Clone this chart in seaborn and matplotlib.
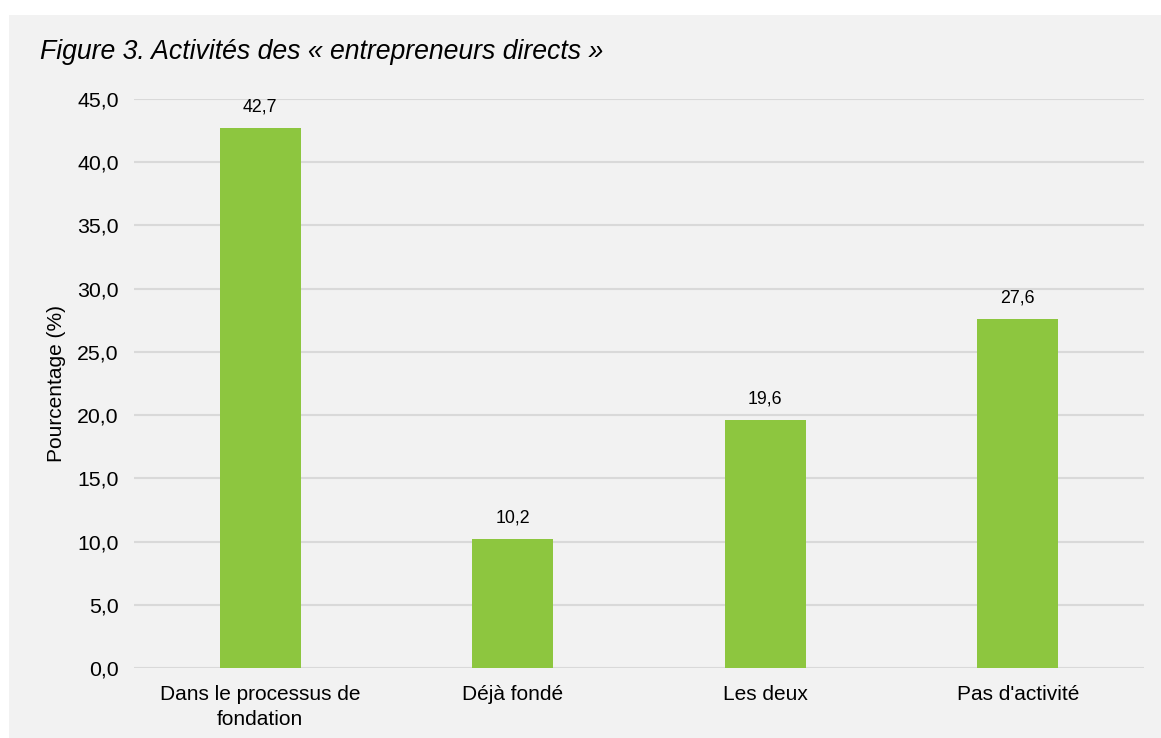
import matplotlib
matplotlib.use("Agg")
import matplotlib.pyplot as plt
import seaborn as sns
import pandas as pd
from matplotlib.patches import Rectangle

# Data
categories = ["Dans le processus de\nfondation", "Déjà fondé", "Les deux", "Pas d'activité"]
values = [42.7, 10.2, 19.6, 27.6]
yticks = [0, 5, 10, 15, 20, 25, 30, 35, 40, 45]

df = pd.DataFrame({"cat": categories, "val": values})

sns.set_style("white")
plt.rcParams['font.family'] = ['Liberation Sans', 'DejaVu Sans']
plt.rcParams['text.color'] = 'black'
plt.rcParams['xtick.color'] = 'black'
plt.rcParams['ytick.color'] = 'black'
plt.rcParams['axes.labelcolor'] = 'black'

W, H = 1161, 738
fig = plt.figure(figsize=(W / 100, H / 100), dpi=100)
fig.patch.set_facecolor("white")
# gray panel behind the chart
fig.patches.append(Rectangle((9 / W, 0), 1, 1 - 15 / H, transform=fig.transFigure,
                             facecolor="#f2f2f2", edgecolor="none", zorder=-10))

ax = fig.add_axes([134 / W, 1 - 668 / H, (1144 - 134) / W, (668 - 99) / H])
ax.set_facecolor("none")

sns.barplot(data=df, x="cat", y="val", color="#8dc63f", width=0.32,
            saturation=1, linewidth=0, ax=ax, zorder=3)

for i, v in enumerate(values):
    ax.text(i, v + 1.0, f"{v:.1f}".replace(".", ","), ha="center", va="bottom",
            fontsize=12.8, color="black")

ax.set_ylim(0, 45)
ax.set_yticks(yticks)
ax.set_yticklabels([f"{t:.1f}".replace(".", ",") for t in yticks], fontsize=15.3)
ax.tick_params(axis="x", labelsize=15, length=0, pad=12)
ax.tick_params(axis="y", length=0, pad=11)
for lbl in ax.get_xticklabels():
    lbl.set_linespacing(1.45)
ax.yaxis.grid(True, color="#d9d9d9", linewidth=1.5, zorder=0)
ax.set_axisbelow(True)
for s in ax.spines.values():
    s.set_visible(False)

ax.set_xlabel("")
ax.set_ylabel("Pourcentage (%)", fontsize=15, labelpad=8)

fig.text(40 / W, 1 - 52 / H, "Figure 3. Activités des « entrepreneurs directs »",
         fontsize=19.2, style="italic", va="center", ha="left")

fig.savefig("out.png", dpi=100)
